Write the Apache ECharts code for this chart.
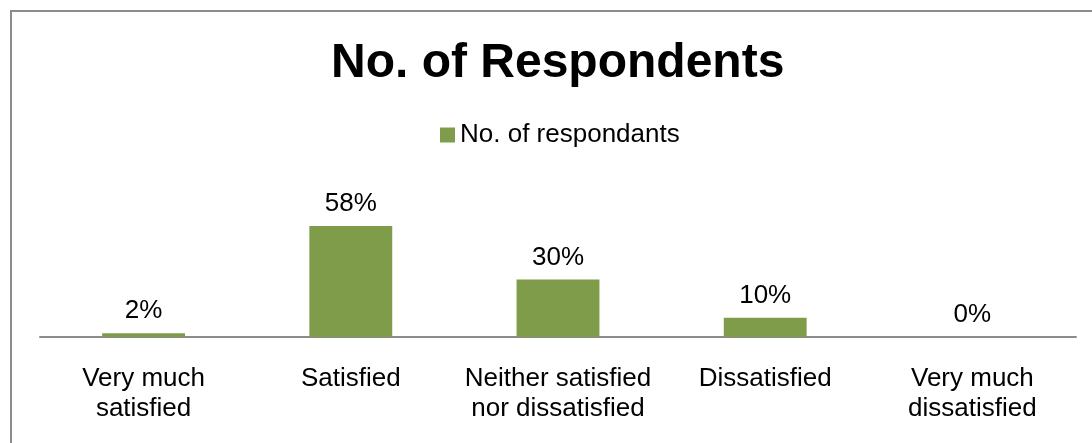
<!DOCTYPE html>
<html>
<head>
<meta charset="utf-8">
<script src="https://cdn.jsdelivr.net/npm/echarts@6/dist/echarts.min.js"></script>
<style>
  body { margin: 0; background: #fff; }
  #chart { width: 1092px; height: 443px; }
</style>
</head>
<body>
<div id="chart"></div>
<script>
// data
var categories = ['Very much\nsatisfied', 'Satisfied', 'Neither satisfied\nnor dissatisfied', 'Dissatisfied', 'Very much\ndissatisfied'];
var respondents = [2, 58, 30, 10, 0];

var font = 'Liberation Sans, Arial, sans-serif';
var myChart = echarts.init(document.getElementById('chart'));
myChart.setOption({
    animation: false,
    graphic: [{
        type: 'rect',
        shape: { x: 11, y: 11, width: 1100, height: 450 },
        style: { fill: 'none', stroke: '#8c8c8c', lineWidth: 2 },
        silent: true
    }],
    title: {
        text: 'No. of Respondents',
        left: 326,
        top: 35,
        textStyle: { fontFamily: font, fontSize: 48, fontWeight: 'bold', color: '#000' }
    },
    legend: {
        data: ['No. of respondants'],
        top: 117,
        left: 435,
        itemWidth: 15,
        itemHeight: 15,
        icon: 'rect',
        textStyle: { fontFamily: font, fontSize: 26, color: '#000' }
    },
    grid: { left: 40, right: 16, top: 203, bottom: 106 },
    xAxis: {
        type: 'category',
        data: categories,
        axisLine: { lineStyle: { color: '#8c8c8c', width: 2 } },
        axisTick: { show: false },
        axisLabel: {
            fontFamily: font, fontSize: 26, color: '#000',
            lineHeight: 30, margin: 27, interval: 0
        }
    },
    yAxis: {
        type: 'value',
        min: 0,
        max: 70,
        show: false,
        splitLine: { show: false }
    },
    series: [{
        name: 'No. of respondants',
        type: 'bar',
        data: respondents,
        barWidth: '40%',
        itemStyle: { color: '#7f9c4b' },
        label: {
            show: true,
            position: 'top',
            distance: 9,
            formatter: '{c}%',
            fontFamily: font,
            fontSize: 26,
            color: '#000'
        }
    }]
});
</script>
</body>
</html>
